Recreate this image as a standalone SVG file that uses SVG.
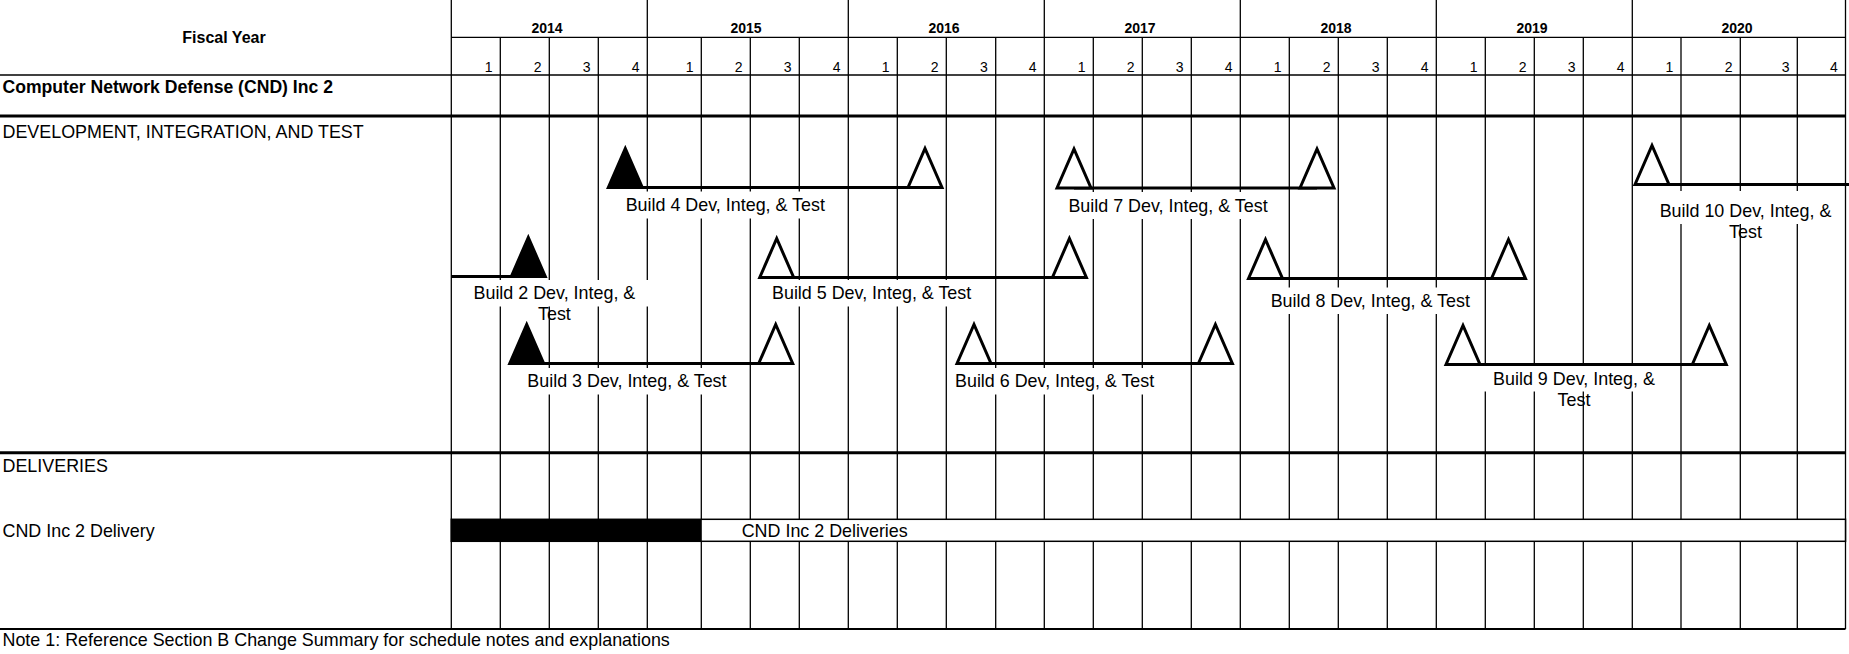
<svg xmlns="http://www.w3.org/2000/svg" width="1849" height="654" viewBox="0 0 1849 654">
<defs>
<style>
text{font-family:"Liberation Sans",Arial,sans-serif;fill:#000}
.lbl{font-size:17.9px}
.hdr{font-size:17.6px;font-weight:bold}
.yr{font-size:14px;font-weight:bold;text-anchor:middle}
.q{font-size:14px;text-anchor:end}
.mid{text-anchor:middle}
.g{stroke:#000;stroke-width:1.3;fill:none}
.thick{stroke:#000;stroke-width:3;fill:none}
.bar{stroke:#000;stroke-width:3;fill:none}
.bg{fill:#fff;stroke:none}
.mo{fill:#fff;stroke:#000;stroke-width:3;stroke-linejoin:miter}
.mf{fill:#000;stroke:#000;stroke-width:3;stroke-linejoin:miter}
</style>
<polygon id="tri" points="-17,0 0,-39 17,0"/>
</defs>
<rect width="1849" height="654" fill="#fff"/>

<g id="grid">
<g class="g">
<line x1="451.3" y1="0" x2="451.3" y2="629"/>
<line x1="647.3" y1="0" x2="647.3" y2="629"/>
<line x1="848.3" y1="0" x2="848.3" y2="629"/>
<line x1="1044.3" y1="0" x2="1044.3" y2="629"/>
<line x1="1240.3" y1="0" x2="1240.3" y2="629"/>
<line x1="1436.3" y1="0" x2="1436.3" y2="629"/>
<line x1="1632.3" y1="0" x2="1632.3" y2="629"/>
<line x1="1845.5" y1="0" x2="1845.5" y2="629"/>
<line x1="500.3" y1="37.3" x2="500.3" y2="629"/>
<line x1="549.3" y1="37.3" x2="549.3" y2="629"/>
<line x1="598.3" y1="37.3" x2="598.3" y2="629"/>
<line x1="701.3" y1="37.3" x2="701.3" y2="629"/>
<line x1="750.3" y1="37.3" x2="750.3" y2="629"/>
<line x1="799.3" y1="37.3" x2="799.3" y2="629"/>
<line x1="897.3" y1="37.3" x2="897.3" y2="629"/>
<line x1="946.3" y1="37.3" x2="946.3" y2="629"/>
<line x1="995.7" y1="37.3" x2="995.7" y2="629"/>
<line x1="1093.3" y1="37.3" x2="1093.3" y2="629"/>
<line x1="1142.3" y1="37.3" x2="1142.3" y2="629"/>
<line x1="1191.3" y1="37.3" x2="1191.3" y2="629"/>
<line x1="1289.3" y1="37.3" x2="1289.3" y2="629"/>
<line x1="1338.3" y1="37.3" x2="1338.3" y2="629"/>
<line x1="1387.3" y1="37.3" x2="1387.3" y2="629"/>
<line x1="1485.3" y1="37.3" x2="1485.3" y2="629"/>
<line x1="1534.3" y1="37.3" x2="1534.3" y2="629"/>
<line x1="1583.3" y1="37.3" x2="1583.3" y2="629"/>
<line x1="1681" y1="37.3" x2="1681" y2="629"/>
<line x1="1740.3" y1="37.3" x2="1740.3" y2="629"/>
<line x1="1797.3" y1="37.3" x2="1797.3" y2="629"/>
<line x1="451.3" y1="37.3" x2="1845.5" y2="37.3"/>
<line x1="0" y1="75" x2="1845.5" y2="75"/>
</g>
<line class="thick" x1="0" y1="116" x2="1845.5" y2="116"/>
<line class="thick" x1="0" y1="452.7" x2="1845.5" y2="452.7"/>
<line x1="0" y1="629" x2="1845.5" y2="629" stroke="#000" stroke-width="2"/>
</g>

<g id="header">
<text class="hdr" x="224" y="42.5" text-anchor="middle" style="font-size:16px">Fiscal Year</text>
<text class="yr" x="547" y="32.5">2014</text>
<text class="yr" x="746" y="32.5">2015</text>
<text class="yr" x="944" y="32.5">2016</text>
<text class="yr" x="1140" y="32.5">2017</text>
<text class="yr" x="1336" y="32.5">2018</text>
<text class="yr" x="1532" y="32.5">2019</text>
<text class="yr" x="1737" y="32.5">2020</text>
<g class="q">
<text class="q" x="492.5" y="71.5">1</text>
<text class="q" x="541.5" y="71.5">2</text>
<text class="q" x="590.5" y="71.5">3</text>
<text class="q" x="639.5" y="71.5">4</text>
<text class="q" x="693.5" y="71.5">1</text>
<text class="q" x="742.5" y="71.5">2</text>
<text class="q" x="791.5" y="71.5">3</text>
<text class="q" x="840.5" y="71.5">4</text>
<text class="q" x="889.5" y="71.5">1</text>
<text class="q" x="938.5" y="71.5">2</text>
<text class="q" x="987.9" y="71.5">3</text>
<text class="q" x="1036.5" y="71.5">4</text>
<text class="q" x="1085.5" y="71.5">1</text>
<text class="q" x="1134.5" y="71.5">2</text>
<text class="q" x="1183.5" y="71.5">3</text>
<text class="q" x="1232.5" y="71.5">4</text>
<text class="q" x="1281.5" y="71.5">1</text>
<text class="q" x="1330.5" y="71.5">2</text>
<text class="q" x="1379.5" y="71.5">3</text>
<text class="q" x="1428.5" y="71.5">4</text>
<text class="q" x="1477.5" y="71.5">1</text>
<text class="q" x="1526.5" y="71.5">2</text>
<text class="q" x="1575.5" y="71.5">3</text>
<text class="q" x="1624.5" y="71.5">4</text>
<text class="q" x="1673.2" y="71.5">1</text>
<text class="q" x="1732.5" y="71.5">2</text>
<text class="q" x="1789.5" y="71.5">3</text>
<text class="q" x="1837.7" y="71.5">4</text>
</g>
</g>

<g id="row-labels">
<text class="hdr" x="2.5" y="92.5">Computer Network Defense (CND) Inc 2</text>
<text class="lbl" x="2.5" y="137.5">DEVELOPMENT, INTEGRATION, AND TEST</text>
<text class="lbl" x="2.5" y="472">DELIVERIES</text>
<text class="lbl" x="2.5" y="537">CND Inc 2 Delivery</text>
<text class="lbl" x="2.5" y="646">Note 1: Reference Section B Change Summary for schedule notes and explanations</text>
</g>

<g id="label-backgrounds" class="bg">
<rect class="bg" x="621" y="191.5" width="213" height="27"/>
<rect class="bg" x="1064" y="192" width="212" height="27"/>
<rect class="bg" x="1652.5" y="191" width="186" height="33"/>
<rect class="bg" x="461" y="280" width="188" height="26.5"/>
<rect class="bg" x="768" y="280" width="212" height="26.5"/>
<rect class="bg" x="1266" y="287.5" width="212" height="26.5"/>
<rect class="bg" x="523" y="368" width="212" height="26.5"/>
<rect class="bg" x="951" y="368" width="212" height="26.5"/>
<rect class="bg" x="1481" y="366" width="186" height="25.5"/>
</g>

<g id="connectors">
<line class="bar" x1="625.3" y1="187.5" x2="925" y2="187.5"/>
<line class="bar" x1="1074" y1="188" x2="1317" y2="188"/>
<line class="bar" x1="1652" y1="184.5" x2="1849" y2="184.5"/>
<line class="bar" x1="451.3" y1="276.5" x2="528.3" y2="276.5"/>
<line class="bar" x1="776.7" y1="277.5" x2="1069.4" y2="277.5"/>
<line class="bar" x1="1265.5" y1="278.5" x2="1508.5" y2="278.5"/>
<line class="bar" x1="526.7" y1="363.5" x2="775.7" y2="363.5"/>
<line class="bar" x1="974" y1="363.5" x2="1215.4" y2="363.5"/>
<line class="bar" x1="1463" y1="364.5" x2="1709.3" y2="364.5"/>
</g>

<g id="build4">
<use href="#tri" class="mf" x="625.3" y="187.5"/>
<use href="#tri" class="mo" x="925" y="187.5"/>
<text class="lbl" x="625.7" y="211">Build 4 Dev, Integ, &amp; Test</text>
</g>
<g id="build7">
<use href="#tri" class="mo" x="1074" y="188"/>
<use href="#tri" class="mo" x="1317" y="188"/>
<text class="lbl" x="1068.4" y="211.5">Build 7 Dev, Integ, &amp; Test</text>
</g>
<g id="build10">
<use href="#tri" class="mo" x="1652" y="184.5"/>
<text class="lbl mid" x="1745.5" y="216.5">Build 10 Dev, Integ, &amp;</text>
<text class="lbl mid" x="1745.5" y="237.5">Test</text>
</g>
<g id="build2">
<use href="#tri" class="mf" x="528.3" y="276.5"/>
<text class="lbl mid" x="554.4" y="298.5">Build 2 Dev, Integ, &amp;</text>
<text class="lbl mid" x="554.4" y="319.5">Test</text>
</g>
<g id="build5">
<use href="#tri" class="mo" x="776.7" y="277.5"/>
<use href="#tri" class="mo" x="1069.4" y="277.5"/>
<text class="lbl" x="772" y="299">Build 5 Dev, Integ, &amp; Test</text>
</g>
<g id="build8">
<use href="#tri" class="mo" x="1265.5" y="278.5"/>
<use href="#tri" class="mo" x="1508.5" y="278.5"/>
<text class="lbl" x="1270.7" y="307">Build 8 Dev, Integ, &amp; Test</text>
</g>
<g id="build3">
<use href="#tri" class="mf" x="526.7" y="363.5"/>
<use href="#tri" class="mo" x="775.7" y="363.5"/>
<text class="lbl" x="527.3" y="387.3">Build 3 Dev, Integ, &amp; Test</text>
</g>
<g id="build6">
<use href="#tri" class="mo" x="974" y="363.5"/>
<use href="#tri" class="mo" x="1215.4" y="363.5"/>
<text class="lbl" x="955" y="387">Build 6 Dev, Integ, &amp; Test</text>
</g>
<g id="build9">
<use href="#tri" class="mo" x="1463" y="364.5"/>
<use href="#tri" class="mo" x="1709.3" y="364.5"/>
<text class="lbl mid" x="1574" y="384.5">Build 9 Dev, Integ, &amp;</text>
<text class="lbl mid" x="1574" y="405.5">Test</text>
</g>

<g id="delivery">
<rect x="451.3" y="519.3" width="1394.2" height="22" fill="#fff" stroke="#000" stroke-width="1.5"/>
<rect x="451.3" y="519.3" width="250.5" height="22" fill="#000"/>
<text class="lbl" x="741.7" y="537">CND Inc 2 Deliveries</text>
</g>
</svg>
